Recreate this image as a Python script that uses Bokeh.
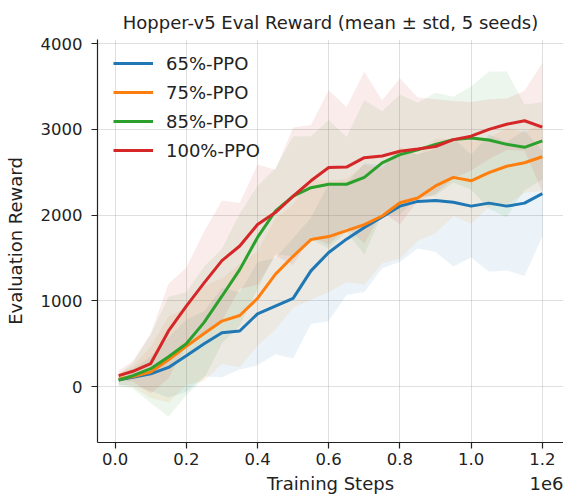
from bokeh.plotting import figure
from bokeh.models import Range1d, FixedTicker, Legend, LegendItem, LinearAxis
from bokeh.embed import file_html
from bokeh.resources import INLINE

# Training steps (raw)
steps = [10000, 50000, 100000, 150000, 200000, 250000, 300000, 350000, 400000, 450000,
         500000, 550000, 600000, 650000, 700000, 750000, 800000, 850000, 900000, 950000,
         1000000, 1050000, 1100000, 1150000, 1200000]

# Mean evaluation reward per variant
mean_65 = [80, 110, 150, 225, 360, 500, 630, 650, 850, 940,
           1030, 1350, 1565, 1720, 1855, 1980, 2105, 2160, 2170, 2150,
           2105, 2140, 2105, 2140, 2250]
mean_75 = [90, 120, 170, 315, 470, 620, 765, 830, 1030, 1310,
           1520, 1715, 1750, 1820, 1890, 1990, 2145, 2200, 2340, 2440,
           2400, 2495, 2570, 2610, 2680]
mean_85 = [75, 130, 210, 350, 500, 750, 1055, 1365, 1740, 2045,
           2220, 2320, 2360, 2360, 2440, 2610, 2705, 2760, 2825, 2880,
           2900, 2875, 2825, 2790, 2865]
mean_100 = [130, 180, 270, 650, 940, 1210, 1470, 1640, 1890, 2030,
            2220, 2400, 2555, 2560, 2670, 2690, 2745, 2770, 2800, 2880,
            2920, 3000, 3060, 3100, 3025]

# Std across seeds
std_65 = [60, 100, 200, 350, 420, 380, 520, 450, 600, 560,
          700, 620, 800, 650, 750, 600, 650, 550, 600, 750,
          600, 800, 750, 850, 500]
std_75 = [60, 120, 300, 500, 450, 550, 500, 600, 550, 650,
          600, 700, 650, 600, 700, 550, 650, 500, 550, 450,
          500, 400, 450, 350, 400]
std_85 = [70, 150, 400, 700, 600, 650, 550, 650, 600, 500,
          700, 600, 750, 550, 900, 600, 700, 550, 600, 500,
          600, 800, 850, 500, 450]
std_100 = [60, 120, 350, 550, 450, 600, 700, 500, 700, 500,
           800, 650, 900, 700, 1000, 650, 850, 600, 550, 450,
           400, 350, 300, 350, 750]

labels = ["65%-PPO", "75%-PPO", "85%-PPO", "100%-PPO"]
means = [mean_65, mean_75, mean_85, mean_100]
stds = [std_65, std_75, std_85, std_100]
colors = ["#1f77b4", "#ff7f0e", "#2ca02c", "#d62728"]

x_ticks = [0, 200000, 400000, 600000, 800000, 1000000, 1200000]
x_tick_labels = ["0.0", "0.2", "0.4", "0.6", "0.8", "1.0", "1.2"]
y_ticks = [0, 1000, 2000, 3000, 4000]
x_title = "Training Steps"
x_offset_text = "1e6"

FONT = "DejaVu Sans"
FW, FH = 466, 403
X0, X1 = -49500, 1259500

p = figure(frame_width=FW, frame_height=FH, output_backend="svg", toolbar_location=None,
           x_range=Range1d(X0, X1), y_range=Range1d(-650, 4047),
           title="Hopper-v5 Eval Reward (mean \u00b1 std, 5 seeds)",
           min_border_left=0, min_border_right=0, min_border_top=0, min_border_bottom=0)
p.margin = (2, 0, 0, 1)

p.outline_line_color = None
p.background_fill_color = "white"
p.border_fill_color = "white"

p.title.text_font = FONT
p.title.text_font_size = "18px"
p.title.text_font_style = "normal"
p.title.align = "center"
p.title.text_color = "#222222"
p.title.standoff = 14

items = []
for lab, m, s, c in zip(labels, means, stds, colors):
    lo = [a - b for a, b in zip(m, s)]
    hi = [a + b for a, b in zip(m, s)]
    p.varea(x=steps, y1=lo, y2=hi, fill_color=c, fill_alpha=0.09)
for lab, m, s, c in zip(labels, means, stds, colors):
    r = p.line(x=steps, y=m, line_color=c, line_width=3)
    items.append(LegendItem(label=lab, renderers=[r]))

legend = Legend(items=items, location=(16, 280))
legend.border_line_color = None
legend.background_fill_alpha = 0
legend.label_text_font = FONT
legend.label_text_font_size = "18px"
legend.label_text_color = "#222222"
legend.glyph_width = 40
legend.glyph_height = 24
legend.label_height = 24
legend.spacing = 5
legend.label_standoff = 13
legend.margin = 0
legend.padding = 4
p.add_layout(legend)

xa = p.xaxis[0]
ya = p.yaxis[0]
for ax in (xa, ya):
    ax.axis_label_text_font = FONT
    ax.axis_label_text_font_size = "18px"
    ax.axis_label_text_font_style = "normal"
    ax.axis_label_text_color = "#222222"
    ax.major_label_text_font = FONT
    ax.major_label_text_font_size = "16.5px"
    ax.major_label_text_color = "#222222"
    ax.axis_line_color = "#222222"
    ax.axis_line_width = 1.2
    ax.major_tick_line_color = "#222222"
    ax.major_tick_line_width = 1.2
    ax.major_tick_out = 6
    ax.major_tick_in = 0
    ax.minor_tick_out = 0
    ax.minor_tick_in = 0

xa.ticker = FixedTicker(ticks=x_ticks)
xa.major_label_overrides = {t: s for t, s in zip(x_ticks, x_tick_labels)}
xa.major_label_standoff = 4

ya.ticker = FixedTicker(ticks=y_ticks)
ya.axis_label = "Evaluation Reward"
ya.major_label_standoff = 9
ya.axis_label_standoff = 12

# Second row under the x axis: axis title (centred) and the 1e6 offset (right)
mid = (X0 + X1) / 2
offset_pos = X1 - 17 * (X1 - X0) / FW
xb = LinearAxis(ticker=FixedTicker(ticks=[mid, offset_pos]),
                major_label_overrides={mid: x_title, offset_pos: x_offset_text},
                axis_line_color=None, major_tick_line_color=None, minor_tick_line_color=None,
                major_tick_out=0, major_tick_in=0, minor_tick_out=0, minor_tick_in=0,
                major_label_standoff=5, major_label_text_font=FONT,
                major_label_text_font_size="18px", major_label_text_color="#222222")
p.add_layout(xb, "below")

p.xgrid.ticker = FixedTicker(ticks=x_ticks)
p.ygrid.ticker = FixedTicker(ticks=y_ticks)
for g in (p.xgrid[0], p.ygrid[0]):
    g.grid_line_color = "#b0b0b0"
    g.grid_line_alpha = 0.4
    g.grid_line_width = 1

open("out.html", "w").write(file_html(p, INLINE))
